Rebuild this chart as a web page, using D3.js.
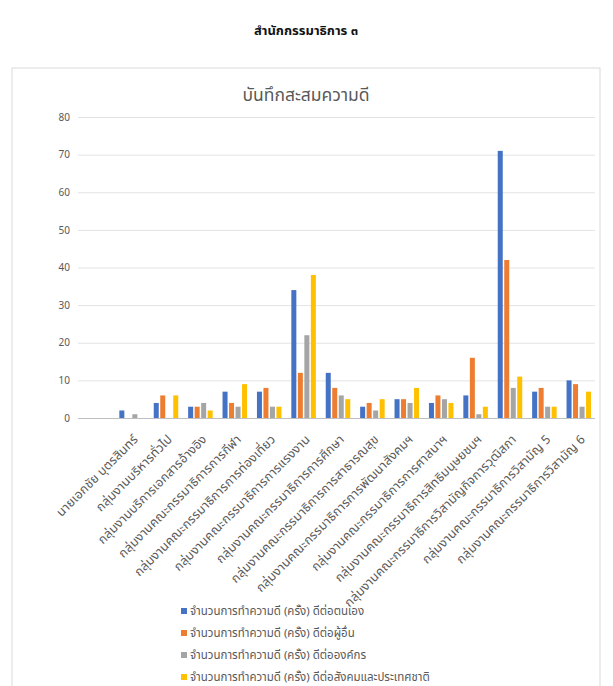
<!DOCTYPE html>
<html>
<head>
<meta charset="utf-8">
<script src="https://cdn.jsdelivr.net/npm/d3@7"></script>
<style>
  body { margin: 0; background: #fff; }
  svg text { font-family: "Noto Sans Thai", "Tahoma", "Noto Sans", "DejaVu Sans", sans-serif; }
</style>
</head>
<body>
<div id="container"></div>
<script>
// first category is blank in the source sheet
const categories = ["",
    "นายเอกชัย บุตรสินทร์",
    "กลุ่มงานบริหารทั่วไป",
    "กลุ่มงานบริการเอกสารอ้างอิง",
    "กลุ่มงานคณะกรรมาธิการการกีฬา",
    "กลุ่มงานคณะกรรมาธิการการท่องเที่ยว",
    "กลุ่มงานคณะกรรมาธิการการแรงงาน",
    "กลุ่มงานคณะกรรมาธิการการศึกษา",
    "กลุ่มงานคณะกรรมาธิการการสาธารณสุข",
    "กลุ่มงานคณะกรรมาธิการการพัฒนาสังคมฯ",
    "กลุ่มงานคณะกรรมาธิการการศาสนาฯ",
    "กลุ่มงานคณะกรรมาธิการสิทธิมนุษยชนฯ",
    "กลุ่มงานคณะกรรมาธิการวิสามัญกิจการวุฒิสภา",
    "กลุ่มงานคณะกรรมาธิการวิสามัญ 5",
    "กลุ่มงานคณะกรรมาธิการวิสามัญ 6"];

const seriesNames = [
    "จำนวนการทำความดี (ครั้ง) ดีต่อตนเอง",
    "จำนวนการทำความดี (ครั้ง) ดีต่อผู้อื่น",
    "จำนวนการทำความดี (ครั้ง) ดีต่อองค์กร",
    "จำนวนการทำความดี (ครั้ง) ดีต่อสังคมและประเทศชาติ"];

const selfValues    = [null, 2, 4, 3, 7, 7, 34, 12, 3, 5, 4, 6, 71, 7, 10];
const othersValues  = [null, 0, 6, 3, 4, 8, 12, 8, 4, 5, 6, 16, 42, 8, 9];
const orgValues     = [null, 1, 0, 4, 3, 3, 22, 6, 2, 4, 5, 1, 8, 3, 3];
const societyValues = [null, 0, 6, 2, 9, 3, 38, 5, 5, 8, 4, 3, 11, 3, 7];

const yTicks = [0, 10, 20, 30, 40, 50, 60, 70, 80];
const colors = ["#4472C4", "#ED7D31", "#A5A5A5", "#FFC000"];

const w = 613, h = 686;
const plotLeft = 80, plotRight = 596, plotTop = 117, plotBottom = 418;

const allSeries = [selfValues, othersValues, orgValues, societyValues];
const rows = categories.map((c, i) => ({
    cat: c,
    vals: allSeries.map((s, j) => ({ key: seriesNames[j], v: s[i] }))
}));

const svg = d3.select("#container").append("svg")
    .attr("width", w).attr("height", h);

svg.append("text")
    .text("สำนักกรรมาธิการ ๓")
    .attr("x", 306).attr("y", 35)
    .attr("text-anchor", "middle")
    .attr("font-size", "13px").attr("font-weight", "bold")
    .attr("fill", "#111");

svg.append("rect")
    .attr("x", 12).attr("y", 68)
    .attr("width", 588).attr("height", 640)
    .attr("fill", "none").attr("stroke", "#d9d9d9");

svg.append("text")
    .text("บันทึกสะสมความดี")
    .attr("x", 306).attr("y", 101)
    .attr("text-anchor", "middle")
    .attr("font-size", "17.5px")
    .attr("fill", "#595959");

const y = d3.scaleLinear().domain([0, 80]).range([plotBottom, plotTop]);
const x0 = d3.scaleBand().domain(categories).range([plotLeft, plotRight]);
const x1 = d3.scaleBand().domain(seriesNames).range([0, x0.bandwidth()])
    .paddingInner(0.23).paddingOuter(0.76);
const color = d3.scaleOrdinal().domain(seriesNames).range(colors);

// gridlines
const yAxis = d3.axisLeft(y).tickValues(yTicks).tickSize(-(plotRight - plotLeft + 1)).tickPadding(8);
const gy = svg.append("g")
    .attr("transform", "translate(" + (plotLeft - 2) + ",0)")
    .call(yAxis);
gy.select(".domain").remove();
gy.selectAll("line").attr("stroke", (d) => d === 0 ? "#bfbfbf" : "#e3e3e3");
gy.selectAll("text").attr("fill", "#595959").attr("font-size", "10px");

const groups = svg.append("g").selectAll("g")
    .data(rows)
    .enter().append("g")
    .attr("transform", (d) => "translate(" + x0(d.cat) + ",0)");

groups.selectAll("rect")
    .data((d) => d.vals.filter((e) => e.v !== null))
    .enter().append("rect")
    .attr("x", (d) => x1(d.key))
    .attr("width", x1.bandwidth())
    .attr("y", (d) => y(d.v))
    .attr("height", (d) => y(0) - y(d.v))
    .attr("fill", (d) => color(d.key));

// category labels, rotated
const xAxis = d3.axisBottom(x0).tickSize(0).tickPadding(0);
const gx = svg.append("g")
    .attr("transform", "translate(0," + plotBottom + ")")
    .call(xAxis);
gx.select(".domain").remove();
gx.selectAll("text")
    .attr("fill", "#595959")
    .attr("font-size", "12.5px")
    .attr("letter-spacing", "0.2px")
    .attr("text-anchor", "end")
    .attr("dy", "0.35em")
    .attr("transform", "translate(4,19) rotate(-45)");

const legend = svg.append("g").selectAll("g")
    .data(seriesNames)
    .enter().append("g")
    .attr("transform", (d, i) => "translate(181," + (611 + i * 22) + ")");
legend.append("rect")
    .attr("x", 0).attr("y", -3)
    .attr("width", 6).attr("height", 6)
    .attr("fill", (d) => color(d));
legend.append("text")
    .text((d) => d)
    .attr("x", 9).attr("y", 0)
    .attr("dy", "0.35em")
    .attr("font-size", "11.5px")
    .attr("fill", "#595959");
</script>
</body>
</html>
